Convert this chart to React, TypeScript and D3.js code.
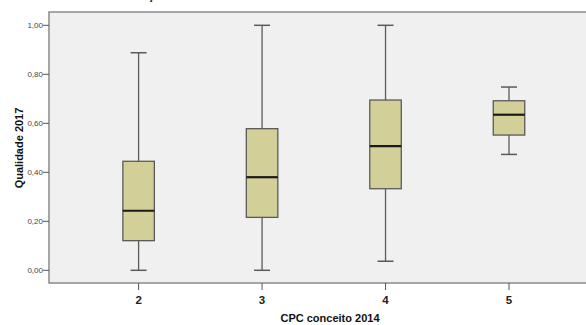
import React from "react";
import * as d3 from "d3";

const categories = ["2", "3", "4", "5"];
const mins = [0.0, 0.0, 0.037, 0.473];
const q1s = [0.121, 0.216, 0.333, 0.552];
const medians = [0.243, 0.38, 0.507, 0.635];
const q3s = [0.445, 0.578, 0.695, 0.692];
const maxs = [0.888, 1.0, 1.0, 0.748];
const yTicks = [0, 0.2, 0.4, 0.6, 0.8, 1.0];

const W = 586;
const H = 325;
const plotLeft = 49;
const plotTop = 12;
const plotBottom = 283;

export default function App() {
  const y = d3.scaleLinear().domain([0, 1]).range([270.3, 25.3]);
  const x = d3.scalePoint<string>().domain(categories).range([138.6, 509]);
  const boxW = 31.5;
  const capW = 16;
  const fmt = (v: number) => d3.format(".2f")(v).replace(".", ",");
  const stroke = "#5a5a5a";
  return (
    <svg width={W} height={H} style={{ position: "absolute", left: 0, top: 0, display: "block" }}
      fontFamily="Liberation Sans, Arial, sans-serif">
      <rect x={0} y={0} width={W} height={H} fill="#ffffff" />
      <text x={151} y={0} fontSize={11} fontWeight="bold" textAnchor="middle" fill="#000">ç</text>
      <rect x={plotLeft} y={plotTop} width={W - plotLeft + 20} height={plotBottom - plotTop}
        fill="#f0f0f0" stroke="#8a8a8a" strokeWidth={1.5} />
      {yTicks.map((t) => (
        <g key={t}>
          <line x1={plotLeft - 6} x2={plotLeft} y1={y(t)} y2={y(t)} stroke="#555" strokeWidth={1} />
          <text x={plotLeft - 6} y={y(t)} dy="0.35em" fontSize={8} textAnchor="end" fill="#444">{fmt(t)}</text>
        </g>
      ))}
      {categories.map((c) => (
        <g key={c}>
          <line x1={x(c)} x2={x(c)} y1={plotBottom} y2={plotBottom + 7} stroke="#555" strokeWidth={1} />
          <text x={x(c)} y={304} fontSize={11.5} fontWeight="bold" textAnchor="middle" fill="#222">{c}</text>
        </g>
      ))}
      {categories.map((c, i) => {
        const cx = x(c) as number;
        return (
          <g key={"b" + c}>
            <line x1={cx} x2={cx} y1={y(maxs[i])} y2={y(q3s[i])} stroke={stroke} strokeWidth={1.3} />
            <line x1={cx} x2={cx} y1={y(q1s[i])} y2={y(mins[i])} stroke={stroke} strokeWidth={1.3} />
            <line x1={cx - capW / 2} x2={cx + capW / 2} y1={y(maxs[i])} y2={y(maxs[i])} stroke={stroke} strokeWidth={1.5} />
            <line x1={cx - capW / 2} x2={cx + capW / 2} y1={y(mins[i])} y2={y(mins[i])} stroke={stroke} strokeWidth={1.5} />
            <rect x={cx - boxW / 2} y={y(q3s[i])} width={boxW} height={y(q1s[i]) - y(q3s[i])}
              fill="#d3cf98" stroke={stroke} strokeWidth={1.3} />
            <line x1={cx - boxW / 2} x2={cx + boxW / 2} y1={y(medians[i])} y2={y(medians[i])} stroke="#1a1a1a" strokeWidth={2.2} />
          </g>
        );
      })}
      <text transform={`translate(23,148) rotate(-90)`} fontSize={11} fontWeight="bold" textAnchor="middle" fill="#111">Qualidade 2017</text>
      <text x={330} y={322} fontSize={11} fontWeight="bold" textAnchor="middle" fill="#111">CPC conceito 2014</text>
    </svg>
  );
}
